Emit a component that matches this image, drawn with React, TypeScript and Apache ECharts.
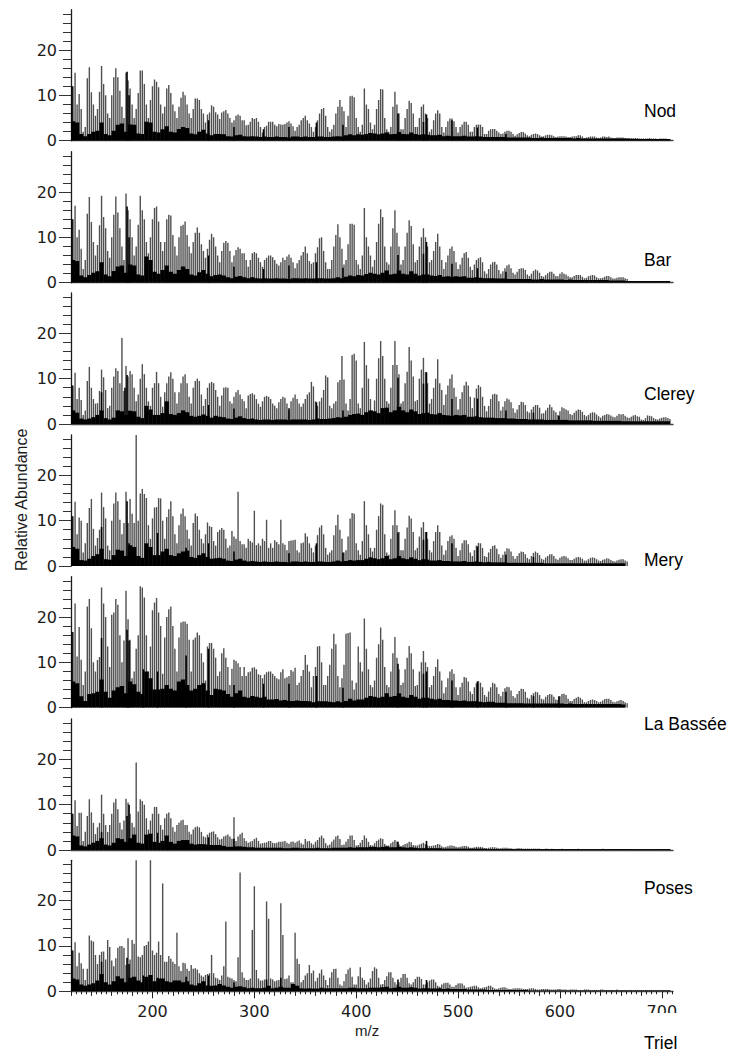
import React, { useEffect, useRef } from "react";
import * as echarts from "echarts";

// Tall series: one value every 2 m/z from 122 (seven values per CH2 cluster row)
const nodTall = [
12,15,8,10.3,7,2,3, 13.8,16.2,10.7,8,5.5,7,10.8, 16.5,12.5,10,6,5,10,14, 16,14,11,7.5,5,15,13.3,
11.5,8,5,7,10.5,15.5,15.5, 12.5,8,5,9,12,13.5,13, 11.8,8,6,7.5,11.5,12.3,10.5, 8,6.5,5,7.5,9.5,10.8,10,
8,6,5,7,9.3,9.3,9, 7,6,4,5.8,6.2,7.8,7.5, 6.3,5.8,4.8,6.2,6.5,6.8,6, 5,4,4.5,5.5,5.8,5.5,4.5,
4.5,3.4,3.5,4.2,5,4.8,5, 4.2,3,1.8,3,3.3,4.2,4.2, 4.2,3.5,3.2,3.7,3.6,3.5,3.7, 4,4.3,3.8,3.2,2.2,3,3.5,
4.5,5,5.5,4.5,3.8,3,2, 3,4.5,6,7,7.2,5.5,3, 2,2.5,3.5,6,7.5,9,7.5, 6.5,3,5.5,9.8,9.9,9.6,5,
3,2,3.5,11.5,8,7,4, 2.5,3.5,7,9,11.4,11.3,5, 2.5,2,3,7.5,10.8,8,6, 2.5,2.5,5,7,8.8,8.3,6,
3,3,5,7.5,8,6,5, 2,2.5,4.5,6,6.7,6,3, 1.8,3,4.3,4.9,4.9,4.3,3, 1.8,3,3.6,4.2,4.2,3.5,2,
2,3,3.5,3.6,3.5,3,1.5, 1.5,2.2,2.5,2.6,2.6,2.2,1.8, 1.5,1.6,2,2.2,2.2,2,1.5, 1.1,1.4,1.7,1.9,1.9,1.6,1.2,
1,1.3,1.5,1.6,1.5,1.2,.9, 1,1.2,1.3,1.3,1.2,1,.8, .9,1,1,1,.9,.8,.8, .9,1,1,1.2,1.2,.9,.6,
.7,.8,.9,.9,.9,.7,.6, .7,.9,.9,.8,.9,.7,.6, .6,.7,.7,.7,.7,.6,.5, .6,.6,.6,.6,.6,.5,.5,
.5,.5,.5,.6,.5,.5,.5, .4,.5,.5,.5,.5,.4,.4];
const barTall = [
14,17,10,11.7,7.5,3,5, 15.2,18.9,13.4,9,6,8.3,12.7, 19.2,14.5,12,7,5.5,10,15, 19,15.5,12,8,5,19.7,16,
14,10,6,8,12.8,19.2,16, 14,9,6.5,10,14,16.5,16.8, 13.5,9,7,9,14,15,14.8, 10.5,8,6,10,12.5,12.8,13.5,
10.5,8,6.5,9,11,12.2,11, 8.5,7,5.5,7.5,9.5,10.8,10, 8,6,4.5,7,8.8,9.2,8.8, 7,4.5,6,7.2,7.8,7.5,6.5,
6.5,5,3.5,5,6.5,6.8,6.5, 5.5,4.5,3.5,5,5.5,6,6, 5.6,5,4.2,3.8,4.5,5.5,5, 5.8,6.2,5.5,4.5,3.2,4.3,5,
6,6.8,8,6.5,4.8,4.2,4.5, 6.5,7.8,9.8,10,7,4.5,3, 3,5,8,10.5,12.9,10,7.5, 4,5,8.5,13,13,12.8,5,
4,3,6,16.5,10,8,6, 3.5,5,9,13,16.2,14.5,8, 4.5,4,8,12,16,11,8, 4,5,8,11,13.8,12.5,8.5,
4.5,5,8,10,12,10,8, 4.5,5,7,9,10.8,8,5, 3,4.5,6,7.5,8,7,4.5, 3,4,5.5,6.5,6.8,5.5,3.5,
2.8,4,5,5.4,5.6,4.5,2.5, 2,3,4,4.5,4.6,4,2.8, 2,2.5,3.2,3.8,4,3.2,2.2, 1.8,2.4,3,3.2,3.2,2.8,1.8,
1.5,2,2.6,2.9,2.7,2.2,1.5, 1.3,1.7,2.1,2.4,2.4,2,1.5, 1.4,2,2.3,2,1.8,1.4,1.2, 1.2,1.5,1.7,1.7,1.7,1.3,1,
1.1,1.4,1.6,1.7,1.6,1.2,1, 1,1.1,1.3,1.5,1.5,1.2,.9, .9,1.1,1.2,1.2,1.2,1,.8, .3,.2,.2,.2,.2,.2,.2,
.2,.2,.2,.2,.2,.2,.2, .2,.2,.2,.2,.2,.2,.2];
const clereyTall = [
8.5,11.3,5.5,8,5.3,2,3, 9.5,12.6,8,5.5,4.5,4.6,7.3, 12,10.3,7.5,3.5,4,8,10.5, 12.3,11.7,9,19,7.3,12.8,10.5,
11.7,11,8,5,6.5,10,13.2, 11,8,5,4,8,9,11.5, 9,6,3.8,7,9,10.5,11.4, 10,7,4.5,7,9,10.5,11,
9,6,4.5,8,9.5,10,9.5, 6.5,4,5.5,8,9,9.3,9, 7.5,6,4,6.3,8,8.1,8, 5,4.5,6,7,7.5,6.5,5.5,
5,3.5,6.3,6.6,6.8,6.5,5.5, 4.5,3.8,5,6,6.2,6,5.5, 4.5,4,3.5,4.8,5.5,6,5.8, 4.5,3,5,5.8,6.5,5.5,4.5,
3.8,4.5,5.5,6.5,7,9.3,8.3, 5,4,5,5.8,7.5,10.7,10.3, 4,3.5,4.5,5,9.2,9.7,15, 9.8,4.5,3,5.5,15.2,15.5,14,
4.5,3.5,8,18.1,13,10,5.5, 3,5.2,10,14.5,18.3,15,10, 5,4.5,8,13,18.3,13,11, 4.5,5,9,11.5,17,14,10.5,
5,5.3,10,12,14.6,11.5,9, 4.5,5.5,8,10,14.3,9,7.5, 4.2,6.5,8.5,10,10.9,8,6, 3.2,5.5,7,8.5,9.3,8.5,6,
3.5,5.8,7.8,8.6,8.2,6,4, 2.8,4,5.5,6.5,6.7,6.5,5, 3,3.8,5,5.6,5.4,4.8,3.5, 2.5,3.2,4.2,4.9,4.8,4.2,2.8,
2.5,3.2,3.8,4.2,4.2,3.6,2.3, 2.4,3,3.6,4.3,3.7,3,2.6, 2,2.8,3.7,3.5,3.2,3,2.2, 2,2.5,2.9,3.2,3.1,2.7,2,
1.7,2,2.4,2.6,2.5,2.1,1.7, 1.4,1.8,2,2.2,2.1,1.9,1.6, 1.5,1.8,2.2,2.1,2.2,1.8,1.5, 1.3,1.6,1.9,2,1.7,1.6,1,
.9,1.3,1.9,1.8,1.7,1.3,1.1, 1,1.2,1.4,1.5,1.5,1.3,1.1];
const meryTall = [
11,14.2,7,10.7,10,3,5, 9.5,12.8,14.8,8.2,4.5,6.2,8, 16.2,13,10.5,4.5,3.5,10,13.8, 16.2,14.3,10.2,7,9.5,16.4,9.5,
14.8,11.5,9.5,28.9,10,16,17, 15.9,15,9,6,10.5,12.9,13, 15,14.9,10,6,10.8,12.5,14.3, 11,7,5,9,11.5,12.7,11,
8,6,4.5,9.5,11.6,11,8, 6,5,7,9.6,8.8,8.6,5.5, 4.5,7.5,8,8.4,8,6,4, 4.5,7.7,6.5,6,16.4,5.5,4.8,
4.8,4,6,5.5,5.2,12.2,4.6, 5,4.5,6,5.5,10.2,4,5, 4,5.7,5.3,4.8,10.2,5,4.7, 3.5,5.5,5.6,5.7,5.8,3.5,3,
5,5.2,7.2,6.5,5,4,3, 4.5,6.8,8.5,9,7,4,2.5, 3,3.5,6.8,9,11.3,8,6, 3,3.5,6.5,10.5,11.7,11.5,5,
3.5,2.5,5.5,14.3,9,7,4, 3.2,4,8,11,13.8,13.5,7, 3,2.5,6,9,12.3,9,7.5, 3.5,3.5,6,8.5,11.1,10.5,7.5,
3.5,4,6.5,8.5,9.7,7.5,6, 3.5,3,5.5,7.5,9,7.5,4.5, 2.5,3.5,5.5,6.5,6.8,6,4, 2.2,3.5,5,5.7,5.7,4.8,3,
2.2,3.5,4.5,5.1,5,4,2.2, 2,3,3.8,4.4,4.6,3.8,2.6, 1.8,2.5,3.2,3.9,3.8,3.2,2.2, 1.6,2.2,2.8,3.2,3.1,2.6,1.8,
1.5,2.2,2.9,3.2,2.9,2.4,1.6, 1.4,1.9,2.2,2.6,2.6,2.2,1.6, 1.4,1.8,2.1,2.2,2.1,1.7,1.3, 1.3,1.6,1.9,2,1.9,1.6,1.2,
1.2,1.5,1.8,1.9,1.8,1.5,1.2, 1.1,1.4,1.5,1.7,1.6,1.3,1.1, 1,1.2,1.4,1.5,1.5,1.2,1];
const labasseeTall = [
16.7,23,11.3,17.8,10.6,5,8, 22.3,24,17.5,10,8,10.5,11.2, 26.5,23,20,13.5,9,20.5,21, 24,22.7,16,10,14.8,25.8,19.5,
15,6.5,8,13,16,26.8,26.5, 24.3,16,8,13.5,21.5,23.2,24.2, 21,18,7.5,15.5,20,21.7,22.3, 18,13,8,15.5,18.8,19,19,
18.5,15,8,15,15.5,16.6,16, 12,10,6,13.5,14.3,14.3,13, 11,7,8,12,13.1,11,9, 5,8.6,10.6,10.3,9.8,9,7,
9,7,7.8,8,8.8,8.9,8.5, 7.4,7.2,6.5,7.3,7.8,8,8, 7.5,7,6.5,6.3,7.8,8.5,6.5, 6.7,7,8.3,8,8.8,5,5.5,
7,8.3,11.6,9.5,8,4.5,7, 9,13.5,13.6,10,5,5,7, 9.5,13,16.3,14,7,4.5,6.5, 9.5,16.3,16.5,16.6,6,4,5.5,
13.5,10,8,19.7,13,8.5,5, 4.5,6,11,14,17.7,15,9, 5,4.5,8,12,15.6,11,8.5, 5,5.5,8.5,11,13.6,12,8.5,
4.8,5,8,10,12.5,10,9, 4.5,5,7,9,10.7,8,6, 3.2,4.5,6.5,8,8.5,7.5,4.5, 2.8,4.5,5.5,6.8,6.6,5.8,3.6,
3,4.5,5.4,5.9,5.5,4.5,2.8, 2.4,3.6,4.5,5.5,5.3,4.5,3, 2.5,3.5,4.3,4.6,4.5,3.8,2.6, 2.2,3,3.7,4.2,4.1,3.5,2.2,
2,2.8,3.2,3.5,3.4,2.8,2, 1.8,2.4,2.8,3,2.9,2.4,1.8, 1.7,2.5,3,3.1,2.8,2,1.5, 1.5,1.9,2.2,2.4,2.2,1.8,1.2,
1.2,1.5,1.7,1.8,1.7,1.5,1.2, 1.3,1.6,1.9,2,2,1.7,1.3, 1.2,1.4,1.6,1.7,1.5,1.2,1];
const posesTall = [
8,11,5.3,8.2,8.2,2,4, 7.5,11.2,8.3,6,3.5,5,6, 12.2,8,5.5,4,5.5,8,10.5, 11.3,9,6,4.5,6.5,11.3,10.5,
8,6,5,19.3,8.5,11.2,10.8, 10,7,4.5,6.5,8,9.5,9.5, 8,5.5,4.5,7,8,8.3,7, 5,4,5.5,6,6.5,6.7,5.5,
5.5,4,3.5,4.5,5,5.2,5, 4,3,2.8,3.4,3.8,4,4.1, 3.5,2.8,2.3,2.5,3,3.2,3.4, 3,2.5,7.2,2,3,3.5,3.8,
2.6,2,1.6,1.8,2,2.4,2.7, 2,1.4,1.5,1.6,1.7,2,2, 1.6,1.5,1.6,1.8,1.8,1.9,2, 1.6,1.4,1.8,1.9,1.6,1.9,2.1,
1.5,1.2,2.4,1.9,2,1.5,1.2, 1.8,2.2,2.8,3.2,2.6,1.5,1, 1.2,1.8,2.3,3,3.2,2.4,1.1, 1.2,1.8,2.4,3.2,3.2,2.2,1,
1.1,1.6,2.2,3.2,2.6,1.8,1.1, 1,1.5,2,2.3,2.6,2.4,1.3, 1,1,1.5,1.8,2.2,1.9,1.2, .9,1.1,1.3,1.5,1.8,1.7,1.1,
1,1,1.2,1.4,1.6,1.3,1, .9,.9,1,1.1,1.3,1.2,.8, .6,.7,.8,1,1,.9,.7, .6,.7,.8,.9,.9,.7,.5,
.5,.6,.7,.7,.7,.6,.4, .4,.5,.6,.6,.6,.5,.4, .4,.5,.5,.5,.4,.4,.3, .3,.4,.4,.4,.3,.3,.3,
.3,.3,.3,.3,.3,.3,.2, .2,.3,.3,.2,.3,.2,.2, .2,.2,.3,.2,.2,.2,.2, .2,.2,.2,.3,.2,.2,.2,
.2,.2,.2,.2,.2,.2,.2, .2,.3,.2,.2,.2,.2,.2, .2,.2,.2,.2,.2,.2,.2, .2,.2,.2,.2,.2,.2,.2,
.2,.2,.2,.2,.2,.2,.2, .2,.2,.2,.2,.2,.2,.2];
const trielTall = [
9,10.8,5.5,8.5,6.2,5,2.5, 5,12.3,11.2,11,8,6,8, 8.7,8.8,7,11.3,9.8,6.8,5.5, 7.3,9.6,10,10,9.6,5.8,11.7,
7,11.3,10.5,29,7.7,7.5,8, 10,10.2,11,29,9,8,8.5, 11,8,23.8,6.5,6.5,7.8,7.2, 6.5,6,12.9,5.5,4.5,6.3,6.2,
5,4.5,5.8,5,5.1,4.8,4, 3.5,3.2,3.6,3.8,4,8,4, 3,2.8,2.5,3.5,5.5,15.4,3.2, 3,2.8,2.5,2.2,7.5,26.2,4.2,
3,2.5,2.5,2.8,13.5,23.2,4.7, 2.8,2.4,2.4,2.6,19.8,16,2.8, 2.6,2.2,2.4,2.5,19.4,12.4,2.7, 2.8,3.5,2,2,12.9,7.2,6,
2,2.5,3.5,4,5.8,4,4.6, 2.2,3,4,4.8,3.5,2.5,1.4, 3,4.2,4.9,5,3,1.5,1.2, 2.2,3.8,4.8,5.2,3.2,1.5,1.5,
3.3,5.3,3,2.5,1.5,2,2.8, 4.5,5.3,5,3,1.5,1.6,2.5, 3.3,4.2,4.2,3,2,1.5,2, 3,3.8,3.8,3,1.8,1.5,2,
2.7,3.2,3.2,2.7,1.5,1.5,2, 2.4,2.6,2.6,2,1.2,1,1.5, 1.8,1.9,1.9,1.5,1,1,1.4, 1.7,1.8,1.7,1.3,.8,.9,1,
1.1,1.2,1.2,.9,.7,.8,.9, 1,1.2,1.2,.9,.6,.5,.7, .8,.9,.9,.7,.5,.5,.6, .7,.7,.7,.6,.5,.5,.5,
.6,.7,.7,.5,.4,.4,.5, .5,.5,.5,.4,.4,.4,.4, .5,.5,.4,.4,.4,.3,.4, .4,.4,.4,.3,.3,.3,.4,
.4,.4,.3,.3,.3,.3,.3, .4,.4,.3,.3,.3,.3,.3, .3,.4,.3,.3,.3,.3,.3, .3,.3,.3,.3,.3,.3,.3,
.3,.3,.3,.3,.3,.3,.3, .3,.3,.3,.3,.3,.3,.3];

// Low series: silhouette, one value every 4 m/z from 122
const nodLow = [
4.3,4,1.5,1,1.5,2,2.2, 4,1.5,1.2,2.2,3.5,3.8,2, 3.6,3.5,1.6,1.5,4.2,4,2, 1.8,2.5,3.2,2,1.8,2.6,3,
2.8,1.6,1.4,2,2.4,1.6,1.2, 1.5,1.5,1.4,1,.9,1.2,1.3, 1,.9,1,.9,.8,.9,.8, .8,.9,.8,.8,.7,.9,.9,
.8,.9,.8,.8,.9,.9,.8, .8,.9,1,.9,1.2,1.4,1.2, 1.4,1.3,1.5,1.7,1.6,1.4,1.6, 1.8,1.4,1.5,1.9,1.5,1.4,1.8,
1.5,1.3,1.4,1.3,1.2,1.2,1.3, 1,1.1,1,1,1,1.1,.9, .9,1,.9,.8,.8,.8,.8, .8,.8,.7,.7,.7,.7,.7,
.7,.6,.6,.7,.6,.6,.6, .6,.6,.6,.6,.5,.6,.5, .5,.5,.5,.5,.5,.5,.5, .5,.5,.5,.5,.4,.4,.4, .4,.4,.4,.4,.4,.4,.4];
const barLow = [
5,4.8,1.6,1.2,1.7,2.2,2.5, 4.5,1.8,1.4,2.6,3.6,3.8,2.2, 4,3.8,1.8,1.6,5.8,5,2.4, 2,2.8,3.8,2.4,2,2.8,3.6,
3,1.8,1.6,2.3,2.8,2,1.4, 1.7,1.8,1.6,1.2,1,1.3,1.5, 1.2,1,1.2,1,.9,1,.9, .9,1,.9,.9,.8,1,1,
.9,1,.9,.9,1,1,.9, .9,1,1.2,1,1.3,1.6,1.4, 1.7,1.6,1.9,2.2,2,1.8,2.2, 2.7,1.8,2,2.7,2,1.8,2.5,
2,1.6,1.8,1.8,1.6,1.5,1.7, 1.3,1.4,1.3,1.4,1.3,1.4,1.1, 1.1,1.2,1.1,1,1,1,.9, .9,.9,.8,.8,.8,.8,.8,
.8,.7,.7,.8,.7,.7,.7, .7,.7,.6,.7,.6,.6,.6, .6,.6,.6,.6,.6,.6,.5, .5,.5,.5,.4,.4,.4,.4, .4,.4,.4,.4,.4,.4,.4];
const clereyLow = [
3,2.5,1.2,1,1.2,1.5,2, 3,1.3,1,1.4,3,2.8,2, 2.9,2.8,1.6,1.3,4,3.2,2, 2,2.4,5,2.2,2,2.4,3,
2.6,1.8,1.6,1.8,2.1,1.8,1.4, 1.8,1.6,1.5,1.2,1.1,1.4,1.7, 1.3,1.1,1.2,1,.9,1,1, .9,1,1,1,.9,1,1,
1,1,.9,1,1.2,1.1,1.1, 1.2,1.3,1.5,1.4,1.6,2,2.2, 2.3,2,2.6,3,2.8,2.4,3.5, 3.6,2.6,3,3.8,3,2.6,3.2,
2.8,2.2,2.4,2.5,2.2,2.1,2.4, 2,1.9,1.8,2,1.9,2,1.6, 1.6,1.7,1.5,1.4,1.4,1.4,1.3, 1.3,1.3,1.2,1.2,1.1,1.1,1.1,
1,1,1,1,.9,.9,.9, .9,.9,.9,.8,.8,.8,.8, .8,.8,.7,.7,.7,.7,.7, .7,.7,.6,.6,.6,.6,.6, .6,.6,.6,.6,.6,.6,.6];
const meryLow = [
4.2,3.8,1.3,1.2,1.6,2.2,2.6, 3.8,1.5,1.4,2.4,3.6,3.4,2.2, 4.6,4.2,2.2,1.8,5,4.2,2.4, 2.4,3.2,3.8,2.4,2.2,2.8,3.2,
3.4,2,1.8,2.4,2.8,2,1.6, 1.7,1.8,1.6,1.2,1.1,1.4,1.6, 1.2,1,1.1,1,.9,1,.9, .9,1,.9,.9,.8,1,1,
.9,1,.9,.9,1,1,.9, .9,1,1.2,1,1.1,1.3,1.2, 1.3,1.3,1.6,1.9,1.7,1.5,1.7, 2.2,1.5,1.7,2.2,1.7,1.5,1.9,
1.6,1.3,1.5,1.4,1.2,1.2,1.3, 1.1,1.1,1,1,1,1.1,.9, .9,1,.9,.8,.9,.8,.8, .8,.8,.7,.7,.7,.7,.7,
.7,.7,.7,.7,.6,.6,.6, .6,.6,.6,.6,.6,.6,.6, .6,.6,.6,.6,.6,.6,.6, .6,.6,.6];
const labasseeLow = [
5.8,5.4,2.5,1.5,3,3.2,3.5, 6.2,3.5,2.2,3.8,4.5,4.8,3.2, 5.8,5.2,3.5,3,8,6.5,4, 4,4.2,5,4.2,3.8,5.8,6.2,
5,3.8,4.2,5,5.4,3.8,2.8, 4.2,4,3.8,3,2.4,3.2,3.8, 2.4,2.2,2.6,2.4,2.2,2.4,1.8, 1.8,1.9,1.6,1.7,1.5,1.5,1.6,
1.5,1.5,1.4,1.2,1.4,1.4,1.4, 1.3,1.2,1.4,1.2,1.5,2,1.6, 1.8,1.8,2.2,2.6,2.4,2.2,2.4, 3.2,2.4,2.6,3.2,2.4,2.2,2.8,
2.4,2,2.2,2.2,2,1.8,2, 1.7,1.7,1.6,1.6,1.5,1.6,1.4, 1.4,1.4,1.3,1.2,1.3,1.3,1.1, 1.1,1.1,1,1,1,1,.9,
.9,.9,.9,.9,.9,.9,.9, .9,.9,.8,.9,.8,.8,.8, .8,.8,.8,.8,.8,.8,.8, .8,.8,.7];
const posesLow = [
3.2,3,1,.8,1.2,1.6,2, 2.6,1.2,1,1.6,2.6,2.4,1.8, 2.6,3.4,1.6,1.4,3.4,3.6,1.8, 1.6,2,3.2,1.8,1.4,2,2.2,
2.2,1.4,1.2,1.3,1.3,1.2,1.1, 1.1,1.1,.9,.7,.7,.8,.8, .7,.6,.6,.5,.5,.5,.5, .5,.5,.5,.4,.4,.5,.5,
.4,.4,.4,.4,.5,.4,.4, .4,.5,.5,.5,.5,.6,.5, .6,.6,.6,.7,.7,.6,.7, .8,.6,.6,.7,.6,.5,.6,
.5,.4,.4,.4,.4,.4,.4, .3,.3,.3,.3,.3,.3,.3, .3,.3,.3,.3,.2,.2,.2, .2,.2,.2,.2,.2,.2,.2,
.2,.2,.2,.2,.2,.2,.2, .2,.2,.2,.2,.2,.2,.2, .2,.2,.2,.2,.2,.2,.2, .2,.2,.2,.2,.2,.2,.2, .2,.2,.2,.2,.2,.2,.2];
const trielLow = [
2.8,2.6,1.5,1.2,1.5,1.8,2.4, 3.8,2,1.5,2.2,3.3,2.8,2, 3,3.2,2.4,2,3.2,3.6,2.2, 2.8,2.8,2.2,2,2.4,2.4,2,
2.2,1.5,1.3,1.8,2.2,1.3,1.2, 1.3,1.6,1.3,1,.8,1,1.1, .9,.7,.8,.7,.7,.8,1.2, .7,.8,1,.8,.8,1.6,1.2,
.7,.6,.7,.6,.6,.8,.7, .7,.7,.7,.7,.7,.8,.8, .7,.7,.7,.8,.8,.8,.9, 1,.7,.8,1,.8,.8,.9,
.8,.6,.7,.7,.6,.6,.7, .5,.6,.5,.5,.5,.5,.4, .4,.4,.4,.4,.3,.3,.3, .3,.3,.3,.3,.3,.3,.3,
.2,.2,.2,.2,.2,.2,.2, .2,.2,.2,.2,.2,.2,.2, .2,.2,.2,.2,.2,.2,.2, .2,.2,.2,.2,.2,.2,.2, .2,.2,.2,.2,.2,.2,.2];

// Isolated dark peaks, [m/z, abundance]
const nodPeaks = [[121,12],[175,15.2],[177,10],[255,4.5],[280,3],[309,2.5],[334,3],[361,4],[387,3.5],[441,6],[466,4.1],[469,5.8],[494,4.5],[519,2.9],[547,1.5]];
const barPeaks = [[121,14],[175,16.8],[177,10],[255,6],[280,3.5],[309,3],[334,3.8],[361,4.5],[387,3.3],[441,6.1],[466,6.4],[469,9],[494,4.2],[519,3.2],[547,2.4]];
const clereyPeaks = [[121,8.5],[150,7],[173,8],[175,10.8],[255,4.2],[280,3.4],[334,3.5],[361,4.8],[387,3],[441,10.2],[466,8.9],[469,11.4],[494,5.5],[519,5.6],[547,3],[574,2.5],[599,1.8]];
const meryPeaks = [[121,11],[150,8.6],[175,14.3],[177,5],[205,7.3],[233,4],[255,5],[280,3.2],[334,2.8],[361,5],[387,3],[441,7.4],[466,5.8],[469,7.5],[494,5],[519,4.3],[547,2.5],[574,2]];
const labasseePeaks = [[121,16.7],[150,15.4],[175,17.2],[177,14.8],[191,8.5],[205,8],[233,11.5],[255,13],[280,5],[309,5.3],[334,5.3],[361,7],[387,4.4],[441,9.7],[466,7.5],[469,8],[494,6],[519,5.8],[547,3.5],[574,2.5],[599,2.5]];
const posesPeaks = [[121,8],[150,4],[175,7.5],[177,10],[205,3.8],[255,2.8],[280,2.5],[441,1.8],[469,2]];
const trielPeaks = [[121,9],[150,6.5],[175,7.4],[177,6],[191,3.5],[205,3],[233,3.2],[255,3.5],[280,2],[312,2.6],[326,3],[441,2.6],[469,2.5]];

const panelNames = ["Nod", "Bar", "Clerey", "Mery", "La Bassée", "Poses", "Triel"];
const panelLabelY = [110, 259, 393, 559, 723, 887, 1042];
const tallSeries = [nodTall, barTall, clereyTall, meryTall, labasseeTall, posesTall, trielTall];
const lowSeries = [nodLow, barLow, clereyLow, meryLow, labasseeLow, posesLow, trielLow];
const peakSeries = [nodPeaks, barPeaks, clereyPeaks, meryPeaks, labasseePeaks, posesPeaks, trielPeaks];
const baselines = [140.7, 282.7, 424, 566, 707.7, 850, 991.3];
const yMajor = [0, 10, 20];
const yMinor = [2, 4, 6, 8, 12, 14, 16, 18, 22, 24, 26, 28];
const xMajor = [200, 300, 400, 500, 600, 700];
const xMedium = [120, 140, 160, 180, 220, 240, 260, 280, 320, 340, 360, 380, 420, 440, 460, 480, 520, 540, 560, 580, 620, 640, 660, 680];
const xMinor = [125, 130, 135, 145, 150, 155, 165, 170, 175, 185, 190, 195, 205, 210, 215, 225, 230, 235, 245, 250, 255, 265, 270, 275, 285, 290, 295, 305, 310, 315, 325, 330, 335, 345, 350, 355, 365, 370, 375, 385, 390, 395, 405, 410, 415, 425, 430, 435, 445, 450, 455, 465, 470, 475, 485, 490, 495, 505, 510, 515, 525, 530, 535, 545, 550, 555, 565, 570, 575, 585, 590, 595, 605, 610, 615, 625, 630, 635, 645, 650, 655, 665, 670, 675, 685, 690, 695, 705, 710];
const panelsWithBaseline = [0, 1, 2, 5, 6];

const stick = (width: number, color: string) => (_: any, api: any) => {
  const top = api.coord([api.value(0), api.value(1)]);
  const bottom = api.coord([api.value(0), 0]);
  return {
    type: "rect",
    shape: { x: top[0] - width / 2, y: top[1], width, height: bottom[1] - top[1] },
    style: { fill: color },
  };
};

export default function App() {
  const ref = useRef<HTMLDivElement>(null);
  useEffect(() => {
    const chart = echarts.init(ref.current!, undefined, { renderer: "svg" });
    const grid: any[] = [];
    const xAxis: any[] = [];
    const yAxis: any[] = [];
    const series: any[] = [];
    const ink = "#1c1c1c";
    baselines.forEach((base, p) => {
      grid.push({ left: 71, width: 602, top: base - 131, height: 131 });
      const xIndex = xAxis.length;
      const last = p === 6;
      xAxis.push({
        type: "value", gridIndex: p, position: "bottom", min: 120, max: 711, splitLine: { show: false },
        axisLine: { show: panelsWithBaseline.includes(p), onZero: false, lineStyle: { color: "#444", width: 1.4 } },
        axisTick: last ? { show: true, customValues: xMajor, length: 7, lineStyle: { color: ink } } : { show: false },
        axisLabel: last
          ? { show: true, customValues: xMajor, margin: 12, fontFamily: "DejaVu Sans", fontSize: 16, color: ink }
          : { show: false },
      });
      if (last) {
        xAxis.push({
          type: "value", gridIndex: p, position: "bottom", min: 120, max: 711, splitLine: { show: false }, axisLine: { show: false },
          axisTick: { show: true, customValues: xMedium, length: 4.5, lineStyle: { color: ink } }, axisLabel: { show: false },
        });
        xAxis.push({
          type: "value", gridIndex: p, position: "bottom", min: 120, max: 711, splitLine: { show: false }, axisLine: { show: false },
          axisTick: { show: true, customValues: xMinor, length: 3, lineStyle: { color: ink } }, axisLabel: { show: false },
        });
      }
      const yIndex = yAxis.length;
      yAxis.push({
        type: "value", gridIndex: p, position: "left", min: 0, max: 28.9, splitLine: { show: false },
        axisLine: { show: true, onZero: false, lineStyle: { color: ink, width: 1.3 } },
        axisTick: { show: true, customValues: yMinor, length: 8, lineStyle: { color: "#333" } },
        axisLabel: { show: true, customValues: yMajor, margin: 14, fontFamily: "DejaVu Sans", fontSize: 16, color: ink },
      });
      yAxis.push({
        type: "value", gridIndex: p, position: "left", min: 0, max: 28.9, splitLine: { show: false }, axisLine: { show: false },
        axisTick: { show: true, customValues: yMajor, length: 12, lineStyle: { color: "#333" } }, axisLabel: { show: false },
      });
      const common = { type: "custom", coordinateSystem: "cartesian2d", xAxisIndex: xIndex, yAxisIndex: yIndex, clip: true, silent: true };
      series.push({ ...common, name: panelNames[p], z: 2, renderItem: stick(1.4, "#505050"), data: tallSeries[p].map((v, i) => [122 + 2 * i, v]) });
      series.push({ ...common, name: panelNames[p] + " low", z: 3, renderItem: stick(4.3, "#000"), data: lowSeries[p].map((v, i) => [122 + 4 * i, v]) });
      series.push({ ...common, name: panelNames[p] + " peaks", z: 4, renderItem: stick(1.6, "#000"), data: peakSeries[p] });
    });
    const graphic: any[] = panelNames.map((name, i) => ({
      type: "text", left: 644, top: panelLabelY[i] - 8.5, z: 20,
      style: { text: name, fontSize: 17.5, fontFamily: "Liberation Sans", fill: "#000" },
    }));
    graphic.push({ type: "text", x: 355, y: 1023, z: 20, style: { text: "m/z", fontSize: 15, fontFamily: "Liberation Sans", fill: ink } });
    graphic.push({
      type: "text", x: 13, y: 571, rotation: Math.PI / 2, z: 20,
      style: { text: "Relative Abundance", fontSize: 16, fontFamily: "Liberation Sans", fill: ink, textAlign: "left", textVerticalAlign: "top" },
    });
    graphic.push({ type: "rect", shape: { x: 635, y: 1013, width: 55, height: 12 }, style: { fill: "#fff" }, z: 15 });
    chart.setOption({ animation: false, backgroundColor: "#fff", grid, xAxis, yAxis, series, graphic });
    return () => chart.dispose();
  }, []);
  return <div ref={ref} style={{ position: "absolute", left: 0, top: 0, width: 732, height: 1055 }} />;
}
